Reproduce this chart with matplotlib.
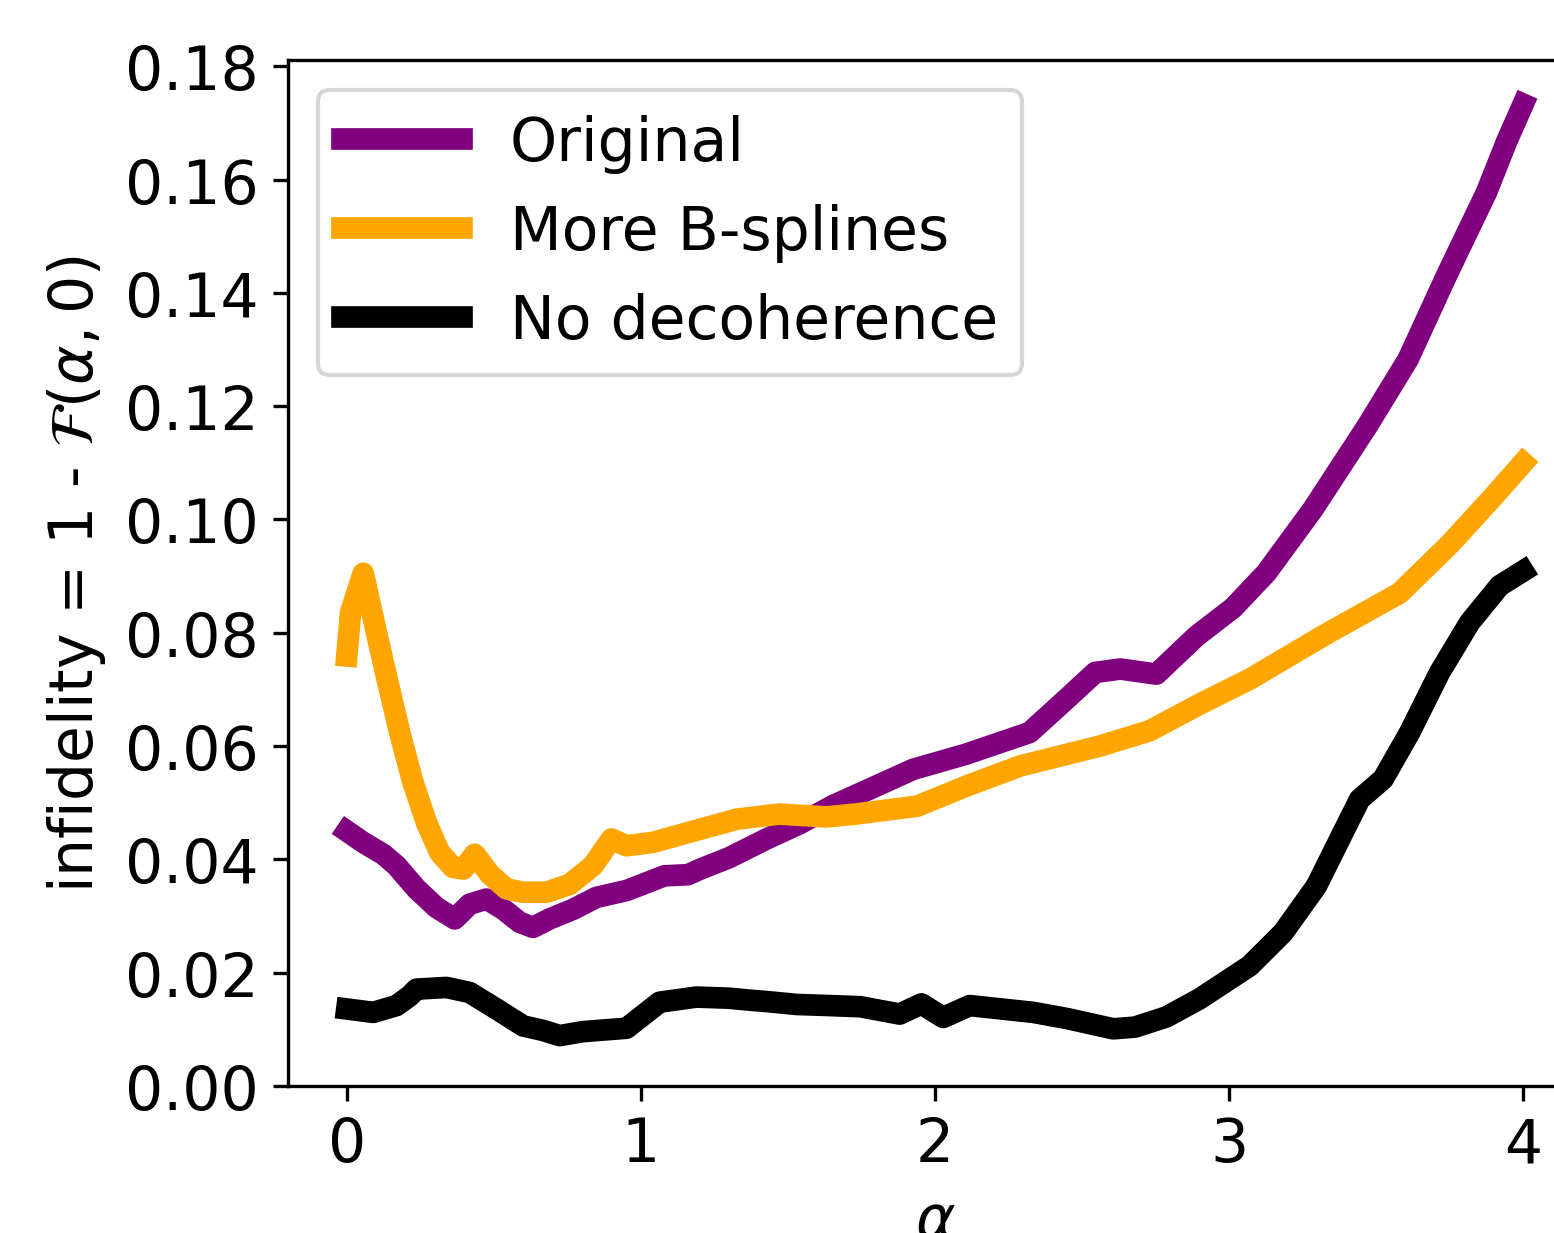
import matplotlib
matplotlib.use("Agg")
import matplotlib.pyplot as plt

plt.rcParams["font.size"] = 14.4

# infidelity vs alpha, one pair of lists per run
alpha_orig = [0, 0.056, 0.124, 0.169, 0.237, 0.305, 0.367, 0.418, 0.475, 0.532, 0.588,
              0.633, 0.69, 0.77, 0.849, 0.951, 1.08, 1.16, 1.203, 1.30, 1.427, 1.54,
              1.653, 1.79, 1.926, 2.00, 2.107, 2.322, 2.447, 2.545, 2.63, 2.753, 2.889,
              3.014, 3.127, 3.285, 3.47, 3.609, 3.739, 3.875, 3.943, 4.0]
infid_orig = [0.0450, 0.0430, 0.0409, 0.0389, 0.0348, 0.0315, 0.0295, 0.0321, 0.0330,
              0.0312, 0.0289, 0.0280, 0.0295, 0.0312, 0.0333, 0.0345, 0.0371, 0.0373,
              0.0383, 0.0403, 0.0436, 0.0463, 0.0495, 0.0527, 0.0559, 0.0570, 0.0586,
              0.0624, 0.0683, 0.0730, 0.0736, 0.0727, 0.0794, 0.0844, 0.0906, 0.1018,
              0.1165, 0.1283, 0.1430, 0.1577, 0.1666, 0.1733]

alpha_bspl = [0, 0.013, 0.056, 0.101, 0.14, 0.18, 0.225, 0.271, 0.316, 0.361, 0.396,
              0.435, 0.486, 0.543, 0.60, 0.679, 0.758, 0.837, 0.90, 0.951, 1.04, 1.20,
              1.326, 1.47, 1.63, 1.73, 1.94, 2.11, 2.29, 2.56, 2.73, 2.90, 3.07, 3.331,
              3.58, 3.75, 3.898, 4.0]
infid_bspl = [0.0759, 0.0836, 0.0905, 0.0800, 0.0712, 0.0624, 0.0536, 0.0465, 0.0412,
              0.0386, 0.0383, 0.0409, 0.0374, 0.0348, 0.0342, 0.0342, 0.0356, 0.0389,
              0.0436, 0.0424, 0.0430, 0.0453, 0.0471, 0.0480, 0.0475, 0.0480, 0.0494,
              0.0530, 0.0565, 0.0600, 0.0627, 0.0674, 0.0718, 0.0798, 0.0870, 0.0956,
              0.1040, 0.1100]

alpha_nodec = [0, 0.09, 0.169, 0.214, 0.237, 0.339, 0.418, 0.509, 0.60, 0.668, 0.724,
               0.803, 0.951, 1.064, 1.189, 1.30, 1.382, 1.43, 1.529, 1.642, 1.746, 1.88,
               1.954, 2.028, 2.118, 2.334, 2.45, 2.606, 2.68, 2.787, 2.90, 3.07, 3.184,
               3.297, 3.388, 3.444, 3.524, 3.614, 3.716, 3.818, 3.92, 4.0]
infid_nodec = [0.0136, 0.0130, 0.0142, 0.0159, 0.0171, 0.0174, 0.0165, 0.0136, 0.0106,
               0.0098, 0.0089, 0.0096, 0.0102, 0.0148, 0.0157, 0.0155, 0.0151, 0.0149,
               0.0144, 0.0142, 0.0140, 0.0127, 0.0145, 0.0121, 0.0142, 0.0130, 0.0119,
               0.0101, 0.0104, 0.0122, 0.0154, 0.0212, 0.0271, 0.0353, 0.0448, 0.0506,
               0.0542, 0.0624, 0.0730, 0.0818, 0.0883, 0.0909]

fig = plt.figure(figsize=(5.18, 4.1133), dpi=300)
ax = fig.add_axes([0.1853, 0.1191, 0.8327, 0.8315])

ax.plot(alpha_orig, infid_orig, color="purple", lw=5.2, label="Original")
ax.plot(alpha_bspl, infid_bspl, color="orange", lw=5.2, label="More B-splines")
ax.plot(alpha_nodec, infid_nodec, color="black", lw=5.2, label="No decoherence")

ax.set_xlim(-0.2, 4.2)
ax.set_ylim(0, 0.1811)
ax.set_yticks([0, 0.02, 0.04, 0.06, 0.08, 0.10, 0.12, 0.14, 0.16, 0.18])
ax.set_xticks([0, 1, 2, 3, 4])
ax.set_xlabel(r"$\alpha$")
ax.set_ylabel(r"infidelity = 1 - $\mathcal{F}(\alpha, 0)$")
ax.legend(loc="upper left")

fig.savefig("out.png", dpi=300)
